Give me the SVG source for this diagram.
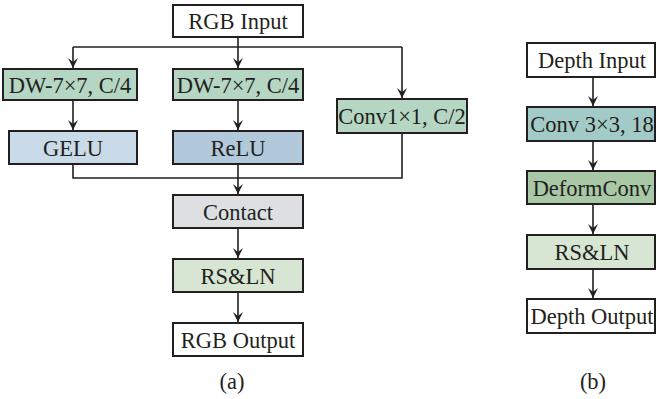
<svg xmlns="http://www.w3.org/2000/svg" width="656" height="399" viewBox="0 0 656 399">
<style>
.box{stroke:#231f20;stroke-width:2}
.t{font-family:"Liberation Serif","Times New Roman",serif;font-size:22.5px;fill:#231f20;text-anchor:middle;dominant-baseline:central}
.c{fill:none;stroke:#231f20;stroke-width:1.6}
</style>
<defs>
<marker id="ar" viewBox="0 0 10 10" refX="10" refY="5" markerWidth="10" markerHeight="10" markerUnits="userSpaceOnUse" orient="auto">
<path d="M0,0 L10,5 L0,10 L4,5 z" fill="#231f20"/>
</marker>
</defs>
<rect width="656" height="399" fill="#fff"/>
<g id="connectors">
<path class="c" d="M238,37 V68" marker-end="url(#ar)"/>
<path class="c" d="M73,47 H402"/>
<path class="c" d="M73,47 V68" marker-end="url(#ar)"/>
<path class="c" d="M402,47 V98" marker-end="url(#ar)"/>
<path class="c" d="M73,100 V130" marker-end="url(#ar)"/>
<path class="c" d="M238,100 V130" marker-end="url(#ar)"/>
<path class="c" d="M73,164 V178 H402 V133"/>
<path class="c" d="M238,164 V194" marker-end="url(#ar)"/>
<path class="c" d="M238,228 V258" marker-end="url(#ar)"/>
<path class="c" d="M238,292 V322" marker-end="url(#ar)"/>
<path class="c" d="M593,77 V106" marker-end="url(#ar)"/>
<path class="c" d="M593,141 V170" marker-end="url(#ar)"/>
<path class="c" d="M593,204 V234" marker-end="url(#ar)"/>
<path class="c" d="M593,269 V298" marker-end="url(#ar)"/>
</g>
<g id="rgb-input"><rect class="box" x="173" y="5" width="130" height="32" fill="#fff"/><text class="t" x="238" y="21">RGB Input</text></g>
<g id="dw1"><rect class="box" x="3" y="69" width="134" height="31" fill="#b5d6c3"/><text class="t" x="70" y="85">DW-7×7, C/4</text></g>
<g id="dw2"><rect class="box" x="173" y="69" width="130" height="31" fill="#b5d6c3"/><text class="t" x="238" y="85">DW-7×7, C/4</text></g>
<g id="conv1"><rect class="box" x="337" y="99" width="130" height="34" fill="#b5d6c3"/><text class="t" x="402" y="116">Conv1×1, C/2</text></g>
<g id="gelu"><rect class="box" x="9" y="131" width="128" height="33" fill="#c9dae9"/><text class="t" x="73" y="148">GELU</text></g>
<g id="relu"><rect class="box" x="173" y="131" width="130" height="33" fill="#b2c9dc"/><text class="t" x="238" y="148">ReLU</text></g>
<g id="contact"><rect class="box" x="173" y="195" width="130" height="33" fill="#dedfe2"/><text class="t" x="238" y="212">Contact</text></g>
<g id="rsln-a"><rect class="box" x="173" y="259" width="130" height="33" fill="#d7e6d3"/><text class="t" x="238" y="276">RS&amp;LN</text></g>
<g id="rgb-output"><rect class="box" x="173" y="323" width="130" height="33" fill="#fff"/><text class="t" x="238" y="340">RGB Output</text></g>
<text class="t" x="232" y="381">(a)</text>
<g id="depth-input"><rect class="box" x="527" y="43" width="128" height="34" fill="#fff"/><text class="t" x="592" y="60">Depth Input</text></g>
<g id="conv3"><rect class="box" x="527" y="107" width="128" height="34" fill="#a2cbc7"/><text class="t" x="592" y="124">Conv 3×3, 18</text></g>
<g id="deform"><rect class="box" x="527" y="171" width="128" height="33" fill="#a8c8a6"/><text class="t" x="592" y="188">DeformConv</text></g>
<g id="rsln-b"><rect class="box" x="527" y="235" width="128" height="34" fill="#d7e6d3"/><text class="t" x="592" y="252">RS&amp;LN</text></g>
<g id="depth-output"><rect class="box" x="527" y="299" width="128" height="34" fill="#fff"/><text class="t" x="592" y="316">Depth Output</text></g>
<text class="t" x="593" y="381">(b)</text>
</svg>
